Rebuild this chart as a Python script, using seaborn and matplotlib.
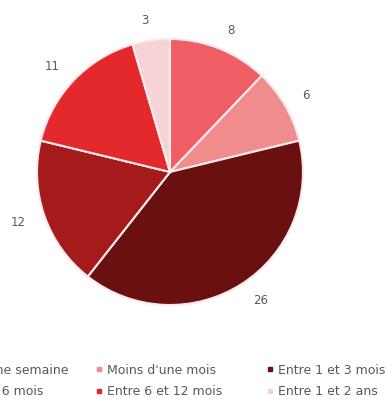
import matplotlib
matplotlib.use("Agg")
import matplotlib.pyplot as plt
import seaborn as sns
from matplotlib.lines import Line2D

categories = ["Moins d'une semaine", "Moins d'une mois", "Entre 1 et 3 mois",
              "Entre 3 et 6 mois", "Entre 6 et 12 mois", "Entre 1 et 2 ans"]
counts = [8, 6, 26, 12, 11, 3]
colors = ["#EE5E64", "#F08C8E", "#6B1010", "#A51A1A", "#E3292B", "#F6D3D6"]

sns.set_style("white")
plt.rcParams['font.family'] = ['DejaVu Sans']

fig = plt.figure(figsize=(3.92, 4.04), dpi=100)
ax = fig.add_axes([37 / 392, 99 / 404, 266 / 392, 266 / 404])

wedges, texts = ax.pie(counts, labels=[str(c) for c in counts], colors=colors,
                       startangle=90, counterclock=False, labeldistance=1.15,
                       wedgeprops={'edgecolor': '#FBEAEA', 'linewidth': 1.5},
                       textprops={'color': '#595959', 'fontsize': 8.5})
ax.set_xlim(-1, 1)
ax.set_ylim(-1, 1)
ax.set_aspect('equal')

# legend: three columns placed separately, first one runs off the left edge
def square(c):
    return Line2D([], [], marker='s', linestyle='', markersize=3.5,
                  markerfacecolor=c, markeredgecolor=c)

columns = [([0, 3], 'upper right', 75 / 392),
           ([1, 4], 'upper left', 88 / 392),
           ([2, 5], 'upper left', 259 / 392)]
for idx, loc, x in columns:
    leg = fig.legend([square(colors[i]) for i in idx], [categories[i] for i in idx],
                     loc=loc, bbox_to_anchor=(x, 0.115), frameon=False,
                     fontsize=9, labelcolor='#595959', handlelength=0.7,
                     handletextpad=0.3, labelspacing=0.65, borderpad=0)

fig.savefig("out.png", dpi=100, facecolor='white')
